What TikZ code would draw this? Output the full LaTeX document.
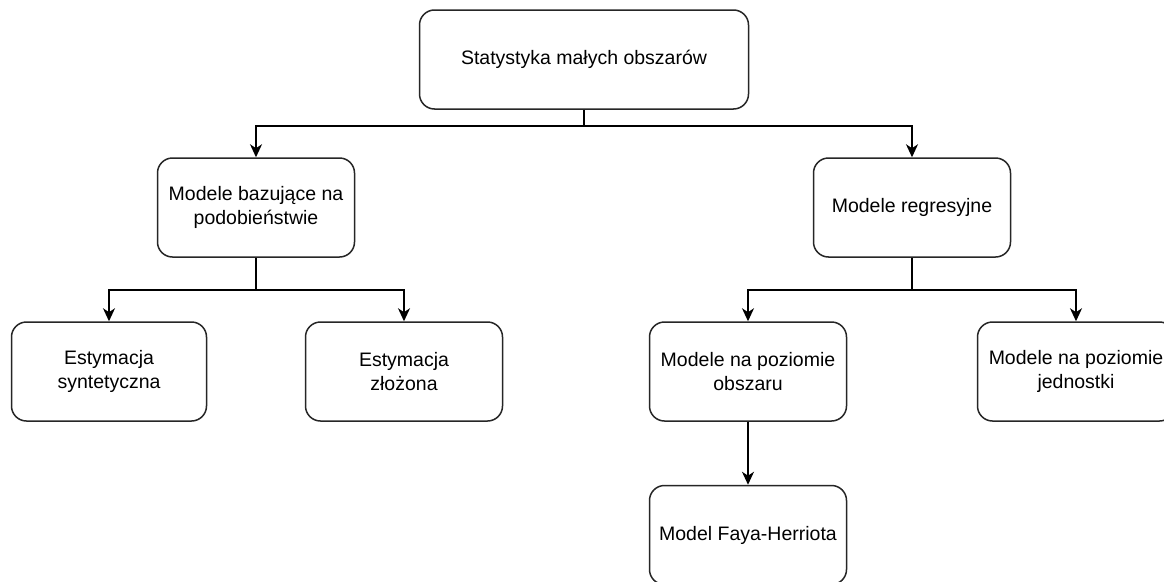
\documentclass[tikz,border=0pt]{standalone}
\usepackage{fontspec}
\setmainfont{Liberation Sans}
\usetikzlibrary{arrows.meta}
\begin{document}
\begin{tikzpicture}[x=1pt,y=-1pt,
  box/.style={draw=black!85, line width=1.5pt, rounded corners=15pt, fill=white,
    minimum width=197pt, minimum height=99pt, align=center, inner sep=2pt,
    font=\fontsize{19.5}{24}\selectfont},
  link/.style={draw=black, line width=1.6pt},
  arr/.style={link, -{Stealth[length=13pt,width=12pt,inset=4pt]}}]
\useasboundingbox (0,0) rectangle (1164,581);
\fill[white] (0,0) rectangle (1164,581);

% root
\node[box, minimum width=329pt] (root) at (584,59.5) {Statystyka małych obszarów};

% second level
\node[box] (sim) at (256,207.5) {Modele bazujące na\\podobieństwie};
\node[box] (reg) at (912,207.5) {Modele regresyjne};

% third level
\node[box, minimum width=195pt] (synt) at (109,371.5) {Estymacja\\syntetyczna};
\node[box] (zloz) at (404,371.5) {Estymacja\\złożona};
\node[box] (obsz) at (748,371.5) {Modele na poziomie\\obszaru};
\node[box] (jedn) at (1076,371.5) {Modele na poziomie\\jednostki};

% fourth level
\node[box] (fh) at (748,535) {Model Faya-Herriota};

% connectors
\draw[link] (root.south) -- ++(0,16) coordinate (j0);
\draw[arr] (j0) -| (sim.north);
\draw[arr] (j0) -| (reg.north);

\draw[link] (sim.south) -- ++(0,32) coordinate (j1);
\draw[arr] (j1) -| (synt.north);
\draw[arr] (j1) -| (zloz.north);

\draw[link] (reg.south) -- ++(0,32) coordinate (j2);
\draw[arr] (j2) -| (obsz.north);
\draw[arr] (j2) -| (jedn.north);

\draw[arr] (obsz.south) -- (fh.north);
\end{tikzpicture}
\end{document}
